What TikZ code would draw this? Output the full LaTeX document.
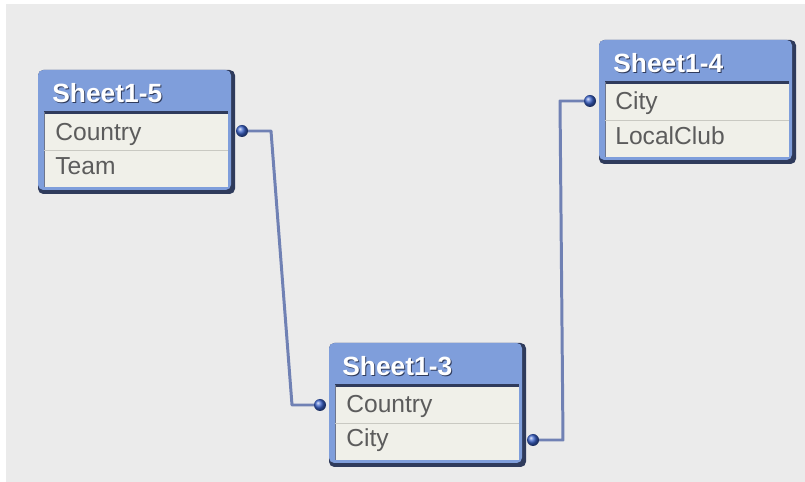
\documentclass[tikz,border=0pt]{standalone}
\usepackage{fontspec}
\setmainfont{Liberation Sans}
\definecolor{panel}{HTML}{EBEBEB}
\definecolor{hdrblue}{HTML}{7F9EDB}
\definecolor{navy}{HTML}{2F3B5C}
\definecolor{cream}{HTML}{F0F0E9}
\definecolor{divc}{HTML}{C9C9C2}
\definecolor{fldtext}{HTML}{5C5C5C}
\definecolor{linkc}{HTML}{7081B4}
\definecolor{dotc}{HTML}{3A62CC}

\begin{document}
\begin{tikzpicture}[x=0.02cm,y=-0.02cm,
	hdr/.style={anchor=base west,inner sep=0pt,text=white,font=\fontsize{15}{17}\selectfont\bfseries},
	hdrshade/.style={hdr,text=navy},
	fld/.style={anchor=base west,inner sep=0pt,text=fldtext,font=\fontsize{14}{17}\selectfont},
	link/.style={draw=linkc,line width=1.7pt,line join=round},
	dot/.style={circle,inner sep=0pt,minimum size=0.24cm,ball color=dotc}]

	\useasboundingbox (0,0) rectangle (805,482);
	\fill[panel] (6,4) rectangle (805,482);

	% Sheet1-5
	\fill[navy,rounded corners=3] (38,70) rectangle (235,194);
	\fill[hdrblue,rounded corners=3] (38,70) rectangle (231,190);
	\fill[cream] (44,112) rectangle (228,187);
	\draw[navy,line width=1.4pt] (44,112.5) -- (228,112.5);
	\draw[navy!70,line width=0.8pt] (44.5,112) -- (44.5,187);
	\draw[divc,line width=1pt] (44,150.5) -- (228,150.5);
	\node[hdrshade] (s5sh) at (53,104) {Sheet1-5};
	\node[hdr] (s5) at (52,103) {Sheet1-5};
	\node[fld] (s5a) at (55,141) {Country};
	\node[fld] (s5b) at (55,175) {Team};

	% Sheet1-3
	\fill[navy,rounded corners=3] (329,343) rectangle (526,467);
	\fill[hdrblue,rounded corners=3] (329,343) rectangle (522,463);
	\fill[cream] (335,385) rectangle (519,460);
	\draw[navy,line width=1.4pt] (335,385.5) -- (519,385.5);
	\draw[navy!70,line width=0.8pt] (335.5,385) -- (335.5,460);
	\draw[divc,line width=1pt] (335,423.5) -- (519,423.5);
	\node[hdrshade] (s3sh) at (343,377) {Sheet1-3};
	\node[hdr] (s3) at (342,376) {Sheet1-3};
	\node[fld] (s3a) at (346,413) {Country};
	\node[fld] (s3b) at (346,447) {City};

	% Sheet1-4
	\fill[navy,rounded corners=3] (599,40) rectangle (796,164);
	\fill[hdrblue,rounded corners=3] (599,40) rectangle (792,160);
	\fill[cream] (605,82) rectangle (789,157);
	\draw[navy,line width=1.4pt] (605,82.5) -- (789,82.5);
	\draw[navy!70,line width=0.8pt] (605.5,82) -- (605.5,157);
	\draw[divc,line width=1pt] (605,120.5) -- (789,120.5);
	\node[hdrshade] (s4sh) at (614,74) {Sheet1-4};
	\node[hdr] (s4) at (613,73) {Sheet1-4};
	\node[fld] (s4a) at (615,110) {City};
	\node[fld] (s4b) at (615,145) {LocalClub};

	% links
	\coordinate (p5) at (242,131);
	\coordinate (p3a) at (320,405);
	\coordinate (p3b) at (533,440);
	\coordinate (p4) at (590,101);
	\draw[link] (p5) -- (271,131) -- (292,405) -- (p3a);
	\draw[link] (p3b) -- (563,440) -- (560,101) -- (p4);
	\node[dot] (d5) at (p5) {};
	\node[dot] (d3a) at (p3a) {};
	\node[dot] (d3b) at (p3b) {};
	\node[dot] (d4) at (p4) {};

\end{tikzpicture}
\end{document}
